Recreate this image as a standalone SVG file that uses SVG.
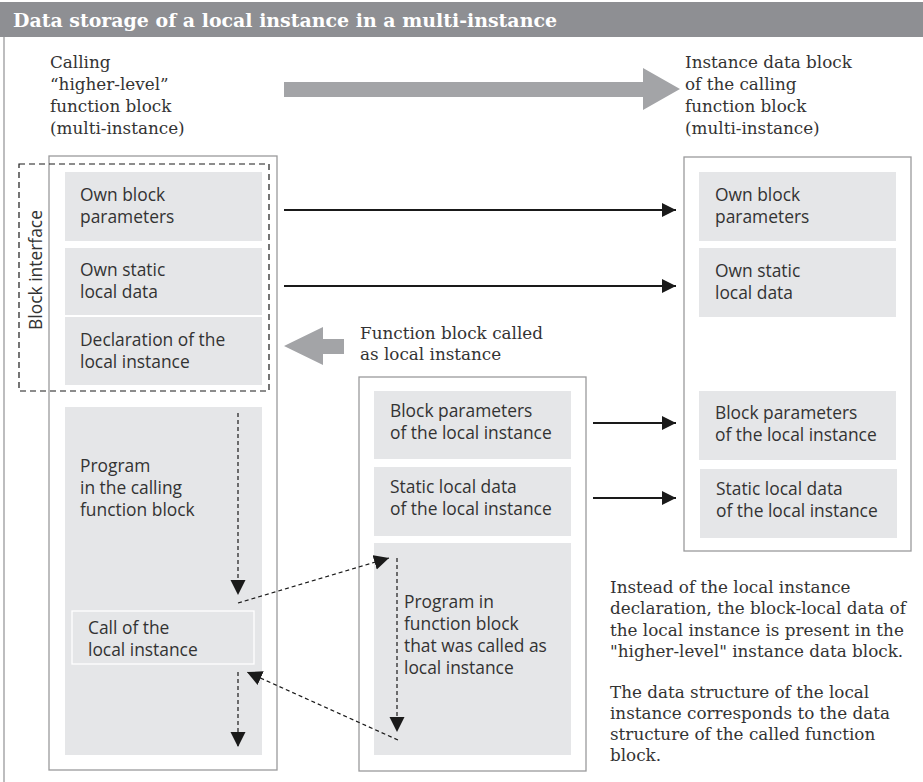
<svg xmlns="http://www.w3.org/2000/svg" width="923" height="782" viewBox="0 0 923 782">
  <style>
    .serif { font-family: "DejaVu Serif", "Liberation Serif", serif; font-size: 16.8px; fill: #333; }
    .sans { font-family: "Open Sans", "Liberation Sans", sans-serif; font-size: 17.4px; fill: #333; }
    .frame { fill: #fff; stroke: #9a9a9c; stroke-width: 1.3; }
    .cell { fill: #e5e6e8; }
    .link { stroke: #1a1a1a; stroke-width: 2; fill: none; }
    .flow { stroke: #1a1a1a; stroke-width: 1.2; stroke-dasharray: 4 3; fill: none; }
    .big { fill: #a3a4a7; }
  </style>
  <defs>
    <marker id="solidHead" viewBox="0 0 10 10" refX="10" refY="5" markerWidth="16" markerHeight="14" markerUnits="userSpaceOnUse" orient="auto">
      <path d="M0,0 L10,5 L0,10 z" fill="#1a1a1a"/>
    </marker>
    <marker id="flowHead" viewBox="0 0 10 10" refX="10" refY="5" markerWidth="15" markerHeight="16" markerUnits="userSpaceOnUse" orient="auto">
      <path d="M0,0 L10,5 L0,10 z" fill="#1a1a1a"/>
    </marker>
  </defs>

  <!-- page frame and title bar -->
  <rect x="0" y="0" width="923" height="782" fill="#fff"/>
  <line x1="4" y1="37" x2="4" y2="782" stroke="#9a9a9c" stroke-width="1.3"/>
  <rect x="0" y="2" width="923" height="35" fill="#8e8f93"/>
  <text x="13" y="27" font-family="DejaVu Serif, Liberation Serif, serif" font-size="18" font-weight="bold" fill="#fff" textLength="544" lengthAdjust="spacingAndGlyphs">Data storage of a local instance in a multi-instance</text>

  <!-- headings -->
  <g id="heading-calling">
    <text class="serif"><tspan x="50" y="68">Calling</tspan><tspan x="50" y="90">“higher-level”</tspan><tspan x="50" y="112">function block</tspan><tspan x="50" y="134">(multi-instance)</tspan></text>
  </g>
  <g id="heading-instance-db">
    <text class="serif"><tspan x="685" y="68">Instance data block</tspan><tspan x="685" y="90">of the calling</tspan><tspan x="685" y="112">function block</tspan><tspan x="685" y="134">(multi-instance)</tspan></text>
  </g>
  <path class="big" d="M284,82 H643 V68 L680,89 L643,110 V97 H284 z"/>

  <!-- calling function block -->
  <g id="calling-fb">
    <rect class="frame" x="49" y="156" width="228" height="614"/>
    <rect class="cell" x="65" y="172" width="197" height="69"/>
    <text class="sans"><tspan x="80" y="201">Own block</tspan><tspan x="80" y="223">parameters</tspan></text>
    <rect class="cell" x="65" y="248" width="197" height="67"/>
    <text class="sans"><tspan x="80" y="276">Own static</tspan><tspan x="80" y="298">local data</tspan></text>
    <rect class="cell" x="65" y="317" width="197" height="68"/>
    <text class="sans"><tspan x="80" y="346">Declaration of the</tspan><tspan x="80" y="368">local instance</tspan></text>
    <rect class="cell" x="65" y="407" width="197" height="348"/>
    <text class="sans"><tspan x="80" y="472">Program</tspan><tspan x="80" y="494">in the calling</tspan><tspan x="80" y="516">function block</tspan></text>
    <rect x="72" y="611" width="182" height="53" fill="none" stroke="#fff" stroke-width="1.3"/>
    <text class="sans"><tspan x="88" y="634">Call of the</tspan><tspan x="88" y="656">local instance</tspan></text>
  </g>

  <!-- block interface frame -->
  <g id="block-interface">
    <rect x="19" y="164" width="250" height="227" fill="none" stroke="#1a1a1a" stroke-width="1.2" stroke-dasharray="6 4"/>
    <text class="sans" font-size="15.5" transform="translate(42,270) rotate(-90)" text-anchor="middle">Block interface</text>
  </g>

  <!-- function block called as local instance -->
  <g id="local-fb">
    <text class="serif"><tspan x="360" y="339">Function block called</tspan><tspan x="360" y="360">as local instance</tspan></text>
    <path class="big" d="M284,346 L323,327 V339 H344 V354 H323 V365 z"/>
    <rect class="frame" x="359" y="377" width="227" height="394"/>
    <rect class="cell" x="374" y="391" width="197" height="68"/>
    <text class="sans"><tspan x="390" y="417">Block parameters</tspan><tspan x="390" y="439">of the local instance</tspan></text>
    <rect class="cell" x="374" y="467" width="197" height="69"/>
    <text class="sans"><tspan x="390" y="493">Static local data</tspan><tspan x="390" y="515">of the local instance</tspan></text>
    <rect class="cell" x="374" y="543" width="197" height="212"/>
    <text class="sans"><tspan x="404" y="608">Program in</tspan><tspan x="404" y="630">function block</tspan><tspan x="404" y="652">that was called as</tspan><tspan x="404" y="674">local instance</tspan></text>
  </g>

  <!-- instance data block of the calling function block -->
  <g id="instance-db">
    <rect class="frame" x="684" y="157" width="227" height="394"/>
    <rect class="cell" x="699" y="172" width="197" height="69"/>
    <text class="sans"><tspan x="715" y="201">Own block</tspan><tspan x="715" y="223">parameters</tspan></text>
    <rect class="cell" x="699" y="248" width="197" height="69"/>
    <text class="sans"><tspan x="715" y="277">Own static</tspan><tspan x="715" y="299">local data</tspan></text>
    <rect class="cell" x="699" y="391" width="197" height="69"/>
    <text class="sans"><tspan x="715" y="419">Block parameters</tspan><tspan x="715" y="441">of the local instance</tspan></text>
    <rect class="cell" x="700" y="469" width="197" height="69"/>
    <text class="sans"><tspan x="716" y="495">Static local data</tspan><tspan x="716" y="517">of the local instance</tspan></text>
  </g>

  <!-- explanation -->
  <g id="note">
    <text class="serif"><tspan x="610" y="593">Instead of the local instance</tspan><tspan x="610" y="614">declaration, the block-local data of</tspan><tspan x="610" y="636">the local instance is present in the</tspan><tspan x="610" y="657">"higher-level" instance data block.</tspan><tspan x="610" y="698">The data structure of the local</tspan><tspan x="610" y="719">instance corresponds to the data</tspan><tspan x="610" y="740">structure of the called function</tspan><tspan x="610" y="761">block.</tspan></text>
  </g>

  <!-- connectors -->
  <g id="connectors">
    <line class="link" x1="284" y1="210" x2="676" y2="210" marker-end="url(#solidHead)"/>
    <line class="link" x1="284" y1="286" x2="676" y2="286" marker-end="url(#solidHead)"/>
    <line class="link" x1="593" y1="423" x2="676" y2="423" marker-end="url(#solidHead)"/>
    <line class="link" x1="593" y1="498" x2="676" y2="498" marker-end="url(#solidHead)"/>
    <line class="flow" x1="238" y1="413" x2="238" y2="595" marker-end="url(#flowHead)"/>
    <line class="flow" x1="238" y1="672" x2="238" y2="747" marker-end="url(#flowHead)"/>
    <line class="flow" x1="238" y1="603" x2="389" y2="558" marker-end="url(#flowHead)"/>
    <line class="flow" x1="397" y1="558" x2="397" y2="732" marker-end="url(#flowHead)"/>
    <line class="flow" x1="398" y1="740" x2="247" y2="672" marker-end="url(#flowHead)"/>
  </g>
</svg>
